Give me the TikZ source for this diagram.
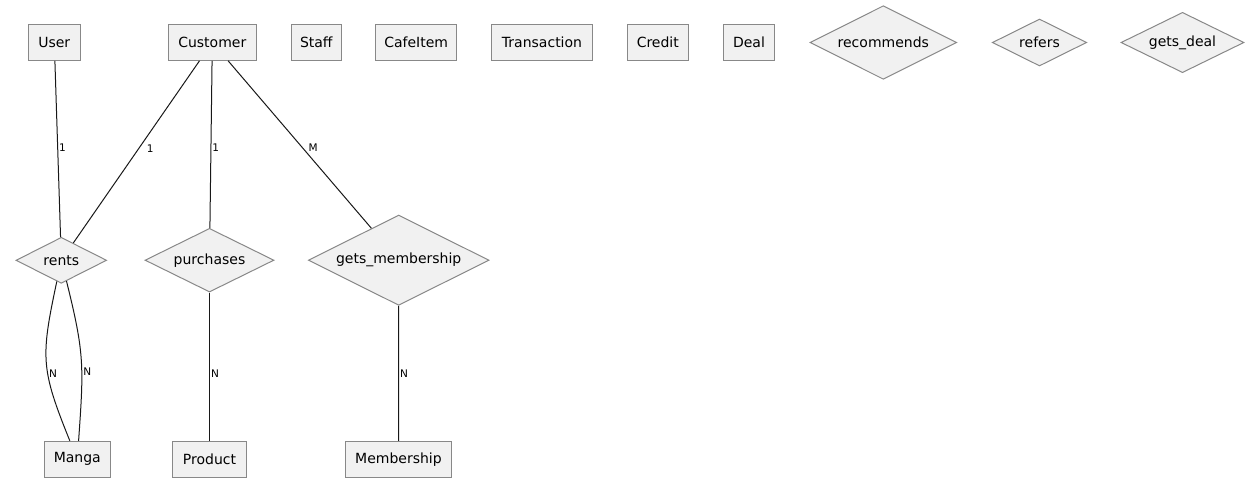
\documentclass[tikz,border=0pt]{standalone}
\usepackage{fontspec}
\setmainfont{DejaVu Sans}
\usetikzlibrary{shapes.geometric}
\definecolor{boxfill}{HTML}{F1F1F1}
\definecolor{boxline}{HTML}{888888}
\definecolor{edgec}{HTML}{181818}
\begin{document}
\begin{tikzpicture}[x=1pt,y=-1pt,
  entity/.style={draw=boxline, fill=boxfill, line width=1pt, inner sep=0pt, minimum height=36pt, font=\fontsize{14}{16}\selectfont},
  rel/.style={diamond, draw=boxline, fill=boxfill, line width=1pt, inner sep=0pt, aspect=2, font=\fontsize{14}{16}\selectfont},
  link/.style={draw=edgec, line width=1pt},
  card/.style={font=\fontsize{10.5}{12}\selectfont, inner sep=1pt, anchor=west, text=black}]
\useasboundingbox (0,0) rectangle (1259,482);
% top row
\node[entity, minimum width=52pt] (user) at (54.3,42.3) {User};
\node[entity, minimum width=88pt] (customer) at (212.3,42.3) {Customer};
\node[entity, minimum width=50pt] (staff) at (316.3,42.3) {Staff};
\node[entity, minimum width=81pt] (cafeitem) at (416.2,42.3) {CafeItem};
\node[entity, minimum width=101.3pt] (transaction) at (542,42.3) {Transaction};
\node[entity, minimum width=61pt] (credit) at (657.8,42.3) {Credit};
\node[entity, minimum width=51.3pt] (deal) at (749,42.3) {Deal};
\node[rel, minimum width=146.7pt, minimum height=73.6pt] (recommends) at (883.3,42.5) {recommends};
\node[rel, minimum width=94.3pt, minimum height=47pt] (refers) at (1039.5,42.5) {refers};
\node[rel, minimum width=123pt, minimum height=60.3pt] (getsdeal) at (1182.5,42.5) {gets\_deal};
% middle row
\node[rel, minimum width=90.7pt, minimum height=46pt] (rents) at (61.3,260.3) {rents};
\node[rel, minimum width=129pt, minimum height=63.7pt] (purchases) at (209.5,260.2) {purchases};
\node[rel, minimum width=180.7pt, minimum height=90.3pt] (getsmembership) at (398.7,260.2) {gets\_membership};
% bottom row
\node[entity, minimum width=66pt] (manga) at (77.3,459.3) {Manga};
\node[entity, minimum width=74.3pt] (product) at (209.5,459.3) {Product};
\node[entity, minimum width=106.3pt] (membership) at (398.5,459.3) {Membership};
% connectors
\draw[link] (user) -- node[card, pos=0.495] {1} (rents);
\draw[link] (customer) -- node[card, pos=0.48, xshift=6.5pt] {1} (rents);
\draw[link] (customer) -- node[card, pos=0.522] {1} (purchases);
\draw[link] (customer) -- node[card, pos=0.52, xshift=4.6pt] {M} (getsmembership);
\draw[link] (rents) to[out=-102, in=112, looseness=1.25] node[card, pos=0.59] {N} (manga);
\draw[link] (rents) to[out=-76, in=86, looseness=1.2] node[card, pos=0.59] {N} (manga);
\draw[link] (purchases) -- node[card, pos=0.55] {N} (product);
\draw[link] (getsmembership) -- node[card, pos=0.505] {N} (membership);
\end{tikzpicture}
\end{document}
